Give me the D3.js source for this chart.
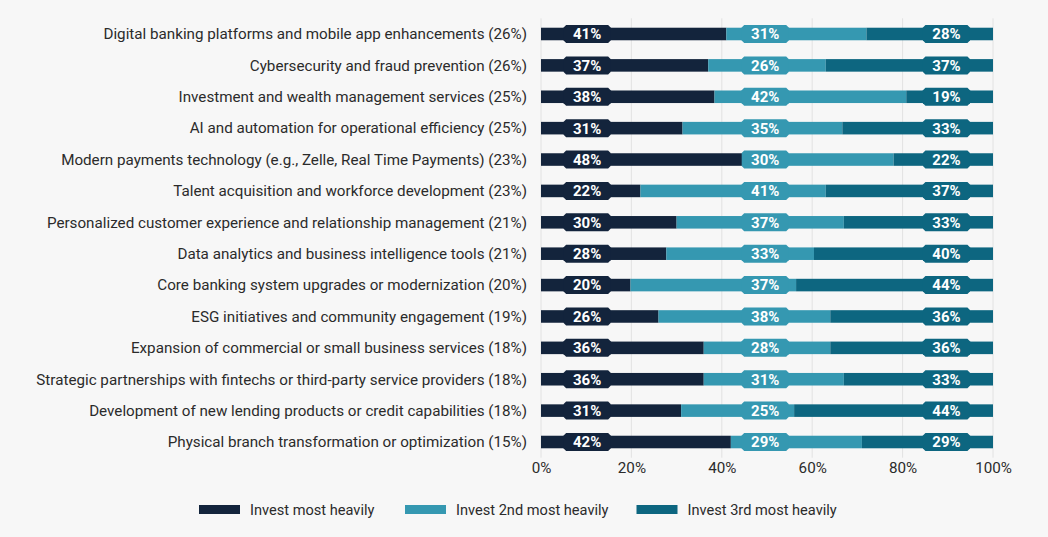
<!DOCTYPE html>
<html>
<head>
<meta charset="utf-8">
<script src="https://cdn.jsdelivr.net/npm/d3@7/dist/d3.min.js"></script>
<style>
  html, body { margin: 0; padding: 0; background: #f7f7f7; }
  svg { display: block; }
</style>
</head>
<body>
<svg id="chart" width="1048" height="537"></svg>
<script>
// ---- data ----
const categories = [
  "Digital banking platforms and mobile app enhancements (26%)",
  "Cybersecurity and fraud prevention (26%)",
  "Investment and wealth management services (25%)",
  "AI and automation for operational efficiency (25%)",
  "Modern payments technology (e.g., Zelle, Real Time Payments) (23%)",
  "Talent acquisition and workforce development (23%)",
  "Personalized customer experience and relationship management (21%)",
  "Data analytics and business intelligence tools (21%)",
  "Core banking system upgrades or modernization (20%)",
  "ESG initiatives and community engagement (19%)",
  "Expansion of commercial or small business services (18%)",
  "Strategic partnerships with fintechs or third-party service providers (18%)",
  "Development of new lending products or credit capabilities (18%)",
  "Physical branch transformation or optimization (15%)"
];
const seriesNames = ["Invest most heavily", "Invest 2nd most heavily", "Invest 3rd most heavily"];
// segment widths as drawn in the picture
const mostHeavily   = [41, 37, 38, 31, 44.5, 22, 30, 28, 20, 26, 36, 36, 31, 42];
const secondHeavily = [31, 26, 42, 35, 33.5, 41, 37, 33, 37, 38, 28, 31, 25, 29];
const thirdHeavily  = [28, 37, 19, 33, 22,   37, 33, 40, 44, 36, 36, 33, 44, 29];
// printed labels
const labelMost   = [41, 37, 38, 31, 48, 22, 30, 28, 20, 26, 36, 36, 31, 42];
const labelSecond = [31, 26, 42, 35, 30, 41, 37, 33, 37, 38, 28, 31, 25, 29];
const labelThird  = [28, 37, 19, 33, 22, 37, 33, 40, 44, 36, 36, 33, 44, 29];
const labelAt = [10.2, 49.6, 89.7];
const xTicks = [0, 20, 40, 60, 80, 100];
const colors = ["#13243c", "#3598b1", "#0d6680"];

// ---- layout ----
const svg = d3.select("#chart");
const font = "Roboto, 'Open Sans', sans-serif";
const x = d3.scaleLinear().domain([0, 1]).range([541, 993]);
const xp = d3.scaleLinear().domain([0, 100]).range([541, 993]);
const y = d3.scaleBand().domain(categories).range([18.3, 457.7]).paddingInner(0.6).paddingOuter(0.3);

const rows = categories.map((c, i) => ({
  cat: c, s0: mostHeavily[i], s1: secondHeavily[i], s2: thirdHeavily[i],
  labels: [labelMost[i], labelSecond[i], labelThird[i]]
}));
const stack = d3.stack().keys(["s0", "s1", "s2"]).offset(d3.stackOffsetExpand);
const stacked = stack(rows);

// gridlines
svg.append("g").selectAll("line").data(xTicks).join("line")
  .attr("x1", d => xp(d)).attr("x2", d => xp(d))
  .attr("y1", y.range()[0]).attr("y2", y.range()[1])
  .attr("stroke", "#e2e2e2").attr("stroke-width", 1);

// bars
svg.append("g").selectAll("g").data(stacked).join("g")
  .attr("fill", (d, i) => colors[i])
  .selectAll("rect").data(d => d).join("rect")
  .attr("x", d => x(d[0]))
  .attr("width", d => x(d[1]) - x(d[0]))
  .attr("y", d => y(d.data.cat))
  .attr("height", y.bandwidth());

// value labels in chamfered boxes
const bw = 47, bh = 18, c = 2.5;
function boxPath(cx, cy) {
  const l = cx - bw / 2, r = cx + bw / 2, t = cy - bh / 2, b = cy + bh / 2;
  return `M${l + c},${t}H${r - c}L${r},${t + c}V${b - c}L${r - c},${b}H${l + c}L${l},${b - c}V${t + c}Z`;
}
const lab = svg.append("g");
rows.forEach(r => {
  const cy = y(r.cat) + y.bandwidth() / 2;
  r.labels.forEach((v, k) => {
    const cx = xp(labelAt[k]);
    lab.append("path").attr("d", boxPath(cx, cy)).attr("fill", colors[k]);
    lab.append("text").attr("x", cx).attr("y", cy).attr("dy", "0.36em")
      .attr("text-anchor", "middle").attr("fill", "#ffffff")
      .attr("font-family", font).attr("font-weight", 700).attr("font-size", 15)
      .text(v + "%");
  });
});

// category labels
svg.append("g").selectAll("text").data(categories).join("text")
  .attr("x", 527).attr("y", d => y(d) + y.bandwidth() / 2).attr("dy", "0.35em")
  .attr("text-anchor", "end").attr("fill", "#2b2b2b")
  .attr("font-family", font).attr("font-size", 15.2)
  .text(d => d);

// x axis
const axis = svg.append("g").attr("transform", `translate(0,${y.range()[1]})`)
  .call(d3.axisBottom(xp).tickValues(xTicks).tickFormat(d => d + "%").tickSize(0).tickPadding(5));
axis.select(".domain").remove();
axis.selectAll("text").attr("font-family", font).attr("font-size", 15.2).attr("fill", "#2b2b2b");

// legend
const legX = [199, 405, 636.5];
const leg = svg.append("g");
seriesNames.forEach((n, i) => {
  leg.append("rect").attr("x", legX[i]).attr("y", 505).attr("width", 41).attr("height", 9).attr("fill", colors[i]);
  leg.append("text").attr("x", legX[i] + 51).attr("y", 509.5).attr("dy", "0.35em")
    .attr("fill", "#2b2b2b").attr("font-family", font).attr("font-size", 14.6).text(n);
});
</script>
</body>
</html>
